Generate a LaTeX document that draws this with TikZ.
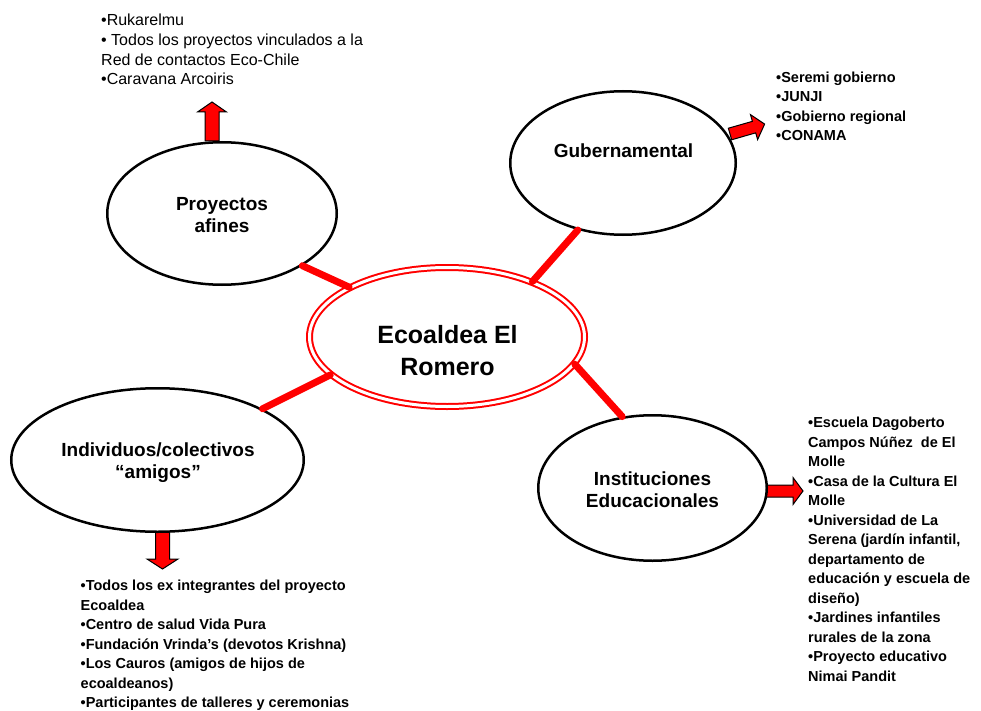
\documentclass[tikz,border=0pt]{standalone}
\usepackage{fontspec}
\setmainfont{Liberation Sans}
\usetikzlibrary{shapes.geometric}
\newcommand\blockarr[6]{% tail, angle, length, shaft half, head half, head length
  \draw[barrowstyle, shift={#1}, rotate=#2] (0,-#4) -- ({#3-#6},-#4) -- ({#3-#6},-#5) -- (#3,0) -- ({#3-#6},#5) -- ({#3-#6},#4) -- (0,#4) -- cycle;}
\begin{document}
\begin{tikzpicture}[x=1pt,y=-1pt,
  bubble/.style={ellipse, draw=black, line width=2.5pt, fill=white, inner sep=0pt, align=center, font=\fontsize{19}{22}\selectfont\bfseries},
  hub/.style={ellipse, draw=red, line width=2pt, double=white, double distance=3pt, inner sep=0pt},
  hubtext/.style={inner sep=0pt, align=center, font=\fontsize{25}{32}\selectfont\bfseries},
  bubbletext/.style={inner sep=0pt, align=center, font=\fontsize{19}{22}\selectfont\bfseries},
  link/.style={red, line width=7pt, line cap=round},
  barrowstyle/.style={fill=red, draw=black, line width=1pt, line join=miter},
  listtxt/.style={anchor=north west, inner sep=0pt, align=left, font=\fontsize{14.5}{19.5}\selectfont\bfseries},
  toptxt/.style={anchor=north west, inner sep=0pt, align=left, font=\fontsize{16}{19.7}\selectfont}]
\useasboundingbox (0,0) rectangle (981,711);
\fill[white] (0,0) rectangle (981,711);

% block arrows (drawn under the ellipses)
\blockarr{(212,141)}{90}{39}{7}{14.5}{10}
\blockarr{(730,134)}{16}{36}{6}{13}{11}
\blockarr{(765,491)}{0}{38}{6}{13.5}{10}
\blockarr{(162.5,532)}{-90}{37}{7}{15.5}{10}

% ellipses
\node[bubble, minimum width=229.5, minimum height=142.5] (proy) at (222,213.5) {};
\node[bubbletext] (proytext) at (222,215) {Proyectos\\afines};
\node[bubble, minimum width=225.5, minimum height=143.5] (guber) at (623,163) {};
\node[bubbletext] (gubertext) at (623.5,151) {Gubernamental};
\node[bubble, minimum width=292.5, minimum height=143.5] (indiv) at (157.5,460) {};
\node[bubbletext] (indivtext) at (158,463) {Individuos/colectivos\\“amigos”};
\node[bubble, minimum width=228.5, minimum height=145.5] (instit) at (652.5,488) {};
\node[bubbletext] (instittext) at (652.5,489.5) {Instituciones\\Educacionales};
\node[hub, minimum width=275, minimum height=139] (hub) at (447,337) {};
\node[hubtext] (hubtxt) at (447.5,351) {Ecoaldea El\\Romero};

% connectors
\draw[link] (proy.-33.3) -- (hub.153);
\draw[link] (guber.-124.8) -- (hub.33.2);
\draw[link] (hub.-162.3) -- (indiv.26.9);
\draw[link] (hub.-12.7) -- (instit.113.4);

% lists
\node[toptxt] (toplist) at (101,14) {•Rukarelmu\\• Todos los proyectos vinculados a la\\Red de contactos Eco-Chile\\•Caravana Arcoiris};
\node[listtxt] (guberlist) at (776,71.5) {•Seremi gobierno\\•JUNJI\\•Gobierno regional\\•CONAMA};
\node[listtxt] (institlist) at (808,417) {•Escuela Dagoberto\\Campos Núñez\ \ de El\\Molle\\•Casa de la Cultura El\\Molle\\•Universidad de La\\Serena (jardín infantil,\\departamento de\\educación y escuela de\\diseño)\\•Jardines infantiles\\rurales de la zona\\•Proyecto educativo\\Nimai Pandit};
\node[listtxt] (indivlist) at (80.5,580) {•Todos los ex integrantes del proyecto\\Ecoaldea\\•Centro de salud Vida Pura\\•Fundación Vrinda’s (devotos Krishna)\\•Los Cauros (amigos de hijos de\\ecoaldeanos)\\•Participantes de talleres y ceremonias};
\end{tikzpicture}
\end{document}
